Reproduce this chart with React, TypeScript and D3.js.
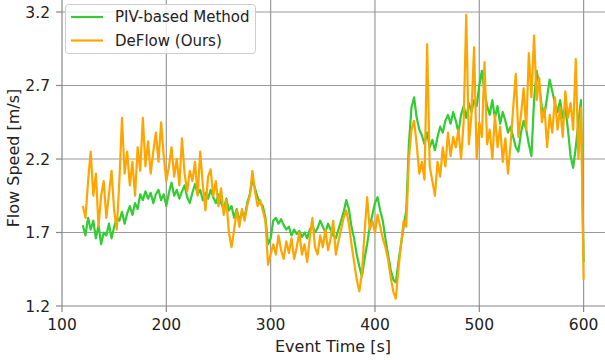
import { useEffect, useRef } from 'react'
import * as d3 from 'd3'

// sampled every 2.5 s from 120 s to 600 s
const sampleStart = 120
const sampleStep = 2.5

const pivValues = [
  1.75, 1.68, 1.80, 1.72, 1.78, 1.66, 1.75, 1.62, 1.70, 1.68,
  1.76, 1.66, 1.74, 1.80, 1.78, 1.84, 1.76, 1.83, 1.88, 1.82,
  1.90, 1.86, 1.96, 1.92, 1.98, 1.93, 1.97, 1.90, 1.96, 1.99,
  1.92, 1.96, 1.88, 1.97, 2.04, 1.95, 1.99, 1.93, 1.98, 2.02,
  1.94, 1.90, 1.97, 2.03, 1.96, 1.99, 1.92, 1.97, 1.93, 1.99,
  1.94, 1.90, 1.96, 1.90, 1.86, 1.93, 1.85, 1.88, 1.80, 1.86,
  1.78, 1.84, 1.80, 1.90, 1.96, 2.06, 2.00, 1.94, 1.90, 1.88,
  1.80, 1.62, 1.66, 1.78, 1.80, 1.76, 1.79, 1.75, 1.72, 1.74,
  1.68, 1.72, 1.69, 1.71, 1.67, 1.70, 1.66, 1.72, 1.75, 1.70,
  1.73, 1.78, 1.74, 1.70, 1.76, 1.72, 1.68, 1.66, 1.72, 1.78,
  1.84, 1.92, 1.86, 1.74, 1.66, 1.55, 1.47, 1.40, 1.52, 1.62,
  1.74, 1.82, 1.90, 1.94, 1.85, 1.78, 1.66, 1.55, 1.45, 1.38,
  1.36, 1.50, 1.62, 1.74, 1.85, 2.30, 2.55, 2.62, 2.48, 2.40,
  2.36, 2.30, 2.38, 2.28, 2.33, 2.26, 2.35, 2.42, 2.38, 2.46,
  2.50, 2.44, 2.52, 2.46, 2.38, 2.50, 2.56, 2.48, 2.58, 2.52,
  2.60, 2.56, 2.70, 2.80, 2.66, 2.56, 2.50, 2.60, 2.48, 2.56,
  2.44, 2.52, 2.46, 2.38, 2.42, 2.35, 2.28, 2.25, 2.38, 2.46,
  2.40, 2.30, 2.22, 2.60, 2.80, 2.70, 2.55, 2.50, 2.62, 2.74,
  2.66, 2.58, 2.52, 2.60, 2.48, 2.55, 2.40, 2.22, 2.14, 2.28,
  2.45, 2.60, 1.50
]

const deflowValues = [
  1.88, 1.80, 2.05, 2.25, 1.95, 2.10, 1.74, 1.95, 2.05, 1.80,
  1.96, 2.12, 1.85, 1.72, 2.05, 2.48, 2.10, 2.25, 2.02, 2.18,
  1.95, 2.28, 2.12, 2.48, 2.15, 2.32, 2.10, 2.25, 2.38, 2.18,
  2.45, 2.22, 2.05, 2.15, 2.28, 2.08, 2.20, 2.02, 2.34, 2.10,
  1.98, 2.12, 2.05, 2.18, 1.95, 2.25, 2.02, 1.85, 2.08, 2.13,
  1.95, 2.05, 1.88, 2.00, 1.82, 1.92, 1.70, 1.60, 1.72, 1.85,
  1.74, 1.86, 1.78, 1.88, 1.95, 2.12, 1.98, 1.88, 1.92, 1.85,
  1.78, 1.48, 1.55, 1.62, 1.55, 1.68, 1.58, 1.52, 1.64, 1.56,
  1.66, 1.52, 1.60, 1.70, 1.55, 1.62, 1.50, 1.66, 1.80, 1.60,
  1.55, 1.68, 1.60, 1.72, 1.58, 1.66, 1.78, 1.55, 1.64, 1.72,
  1.80, 1.85, 1.76, 1.62, 1.50, 1.38, 1.30, 1.42, 1.70, 1.94,
  1.72, 1.78, 1.70, 1.82, 1.74, 1.66, 1.60, 1.52, 1.40, 1.30,
  1.25, 1.45, 1.62, 1.78, 1.74, 2.20, 2.40, 2.46, 2.30, 2.10,
  2.18, 2.06, 2.98, 2.15, 2.05, 1.95, 2.18, 2.08, 2.28, 2.15,
  2.38, 2.22, 2.35, 2.28, 2.40, 2.20, 2.45, 3.18, 2.30, 2.50,
  2.96, 2.20, 2.45, 2.35, 2.86, 2.30, 2.40, 2.20, 2.50, 2.28,
  2.42, 2.18, 2.34, 2.10, 2.30, 2.55, 2.78, 2.35, 2.50, 2.68,
  2.40, 2.92, 2.62, 3.04, 2.60, 2.75, 2.45, 2.55, 2.28, 2.50,
  2.38, 2.62, 2.40, 2.55, 2.35, 2.66, 2.48, 2.58, 2.40, 2.88,
  2.20, 2.55, 1.38
]

const seriesNames = ['PIV-based Method', 'DeFlow (Ours)']
const seriesColors = ['#32cd32', '#ffa500']
const xTicks = [100, 200, 300, 400, 500, 600]
const yTicks = [1.2, 1.7, 2.2, 2.7, 3.2]

const width = 605
const height = 360

export default function App() {
  const svgRef = useRef<SVGSVGElement>(null)

  useEffect(() => {
    if (!svgRef.current) return
    const svg = d3.select(svgRef.current)
    svg.selectAll('*').remove()

    const x = d3.scaleLinear().domain([100, 600]).range([62, 583.6])
    const y = d3.scaleLinear().domain([1.2, 3.2]).range([306, 12])
    const font = 'DejaVu Sans, sans-serif'
    const fs = 15

    svg.append('defs').append('clipPath').attr('id', 'plot-clip')
      .append('rect').attr('x', 62).attr('y', 0).attr('width', width - 62).attr('height', 306)

    // grid
    svg.append('g').selectAll('line').data(xTicks.slice(1)).enter().append('line')
      .attr('x1', d => x(d)).attr('x2', d => x(d)).attr('y1', 0).attr('y2', 306)
      .attr('stroke', '#9a9a9a').attr('stroke-width', 1.2)
    svg.append('g').selectAll('line').data(yTicks.slice(1)).enter().append('line')
      .attr('x1', 62).attr('x2', width).attr('y1', d => y(d)).attr('y2', d => y(d))
      .attr('stroke', '#9a9a9a').attr('stroke-width', 1.2)

    // spines
    svg.append('line').attr('x1', 62).attr('x2', 62).attr('y1', 0).attr('y2', 306)
      .attr('stroke', '#888').attr('stroke-width', 1.2)
    svg.append('line').attr('x1', 62).attr('x2', width).attr('y1', 306).attr('y2', 306)
      .attr('stroke', '#888').attr('stroke-width', 1.2)

    // ticks + labels
    const xAxis = svg.append('g')
    xTicks.forEach(t => {
      xAxis.append('line').attr('x1', x(t)).attr('x2', x(t)).attr('y1', 306).attr('y2', 312)
        .attr('stroke', '#888').attr('stroke-width', 1.2)
      xAxis.append('text').attr('x', x(t)).attr('y', 330).attr('text-anchor', 'middle')
        .attr('font-family', font).attr('font-size', 15.5).attr('fill', '#222').text(t)
    })
    const yAxis = svg.append('g')
    yTicks.forEach(t => {
      yAxis.append('line').attr('x1', 56).attr('x2', 62).attr('y1', y(t)).attr('y2', y(t))
        .attr('stroke', '#888').attr('stroke-width', 1.2)
      yAxis.append('text').attr('x', 50).attr('y', y(t)).attr('dy', '0.36em').attr('text-anchor', 'end')
        .attr('font-family', font).attr('font-size', 15.5).attr('fill', '#222').text(t.toFixed(1))
    })

    svg.append('text').attr('x', 333).attr('y', 352).attr('text-anchor', 'middle')
      .attr('font-family', font).attr('font-size', 16).attr('fill', '#222').text('Event Time [s]')
    svg.append('text').attr('transform', 'translate(19,158) rotate(-90)').attr('text-anchor', 'middle')
      .attr('font-family', font).attr('font-size', 16).attr('fill', '#222').text('Flow Speed [m/s]')

    // series
    const line = d3.line<number>()
      .x((_, i) => x(sampleStart + i * sampleStep))
      .y(d => y(d))
    const lines = svg.append('g').attr('clip-path', 'url(#plot-clip)')
    ;[pivValues, deflowValues].forEach((vals, k) => {
      lines.append('path').datum(vals)
        .attr('fill', 'none')
        .attr('stroke', seriesColors[k])
        .attr('stroke-width', 2.2)
        .attr('stroke-linejoin', 'round')
        .attr('d', line)
    })

    // legend
    const legend = svg.append('g')
    legend.append('rect').attr('x', 65.5).attr('y', 4.5).attr('width', 190).attr('height', 49)
      .attr('rx', 3).attr('fill', 'white').attr('fill-opacity', 0.8)
      .attr('stroke', '#cccccc').attr('stroke-width', 1)
    seriesNames.forEach((name, i) => {
      const ly = 17 + i * 23.5
      legend.append('line').attr('x1', 71).attr('x2', 103).attr('y1', ly).attr('y2', ly)
        .attr('stroke', seriesColors[i]).attr('stroke-width', 2.2)
      legend.append('text').attr('x', 115).attr('y', ly).attr('dy', '0.36em')
        .attr('font-family', font).attr('font-size', fs).attr('fill', '#222').text(name)
    })
  }, [])

  return (
    <div style={{ position: 'absolute', left: 0, top: 0 }}>
      <svg ref={svgRef} width={width} height={height} style={{ display: 'block' }} />
    </div>
  )
}
